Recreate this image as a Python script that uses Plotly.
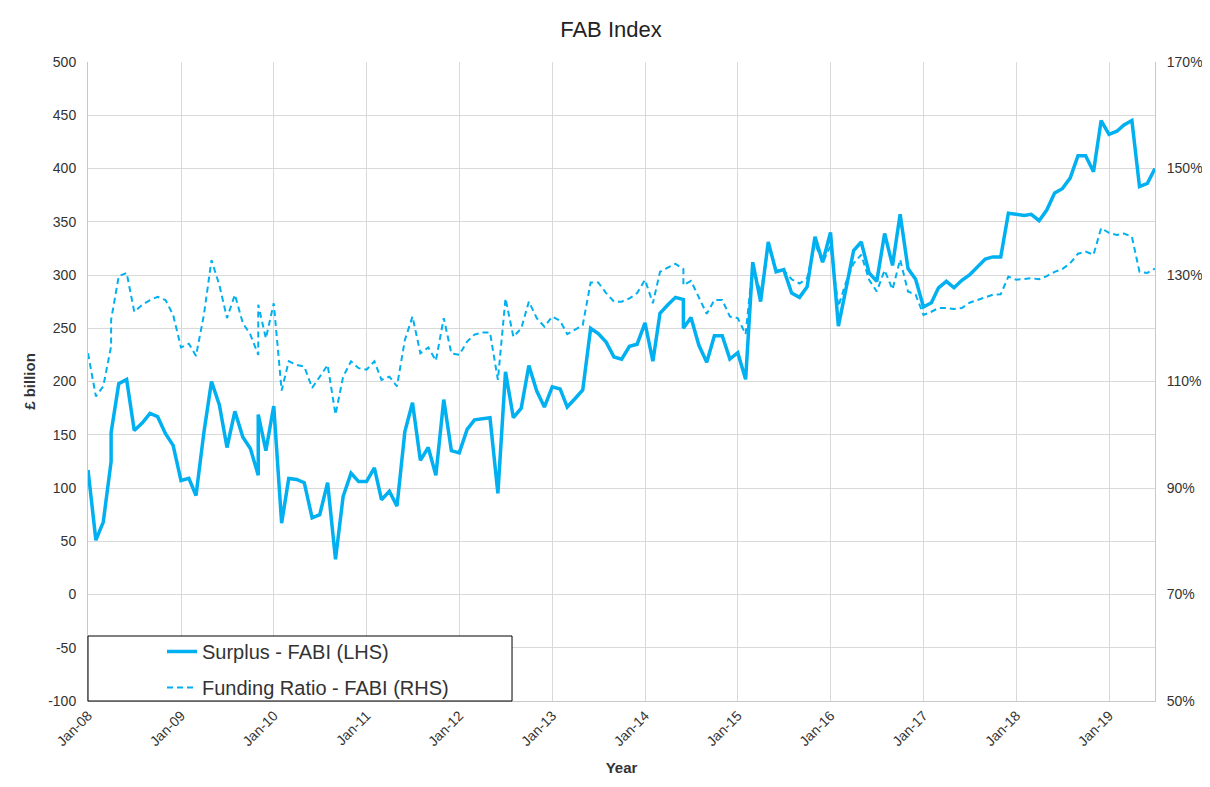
import pandas as pd
import plotly.graph_objects as go

# Months on which the series has two readings (drawn as a vertical step)
repeat_months = ["2008-04", "2009-11", "2014-06"]

surplus = [
    117, 51, 68, 125, 152, 198, 202, 154, 161, 170, 167, 151, 140,      # 2008
    107, 109, 93, 152, 200, 178, 138, 172, 148, 137, 112, 169, 135,     # 2009
    177, 67, 109, 108, 105, 72, 75, 105, 33, 92, 114, 106,              # 2010
    106, 119, 89, 97, 83, 153, 180, 126, 138, 112, 183, 135,            # 2011
    133, 155, 164, 165, 166, 95, 209, 166, 175, 215, 191, 176,          # 2012
    195, 193, 176, 184, 192, 250, 245, 237, 223, 221, 233, 235,         # 2013
    255, 219, 264, 272, 279, 277, 250, 260, 234, 218, 243, 243, 221,    # 2014
    227, 202, 312, 275, 331, 303, 305, 283, 279, 289, 336, 312,         # 2015
    340, 252, 286, 323, 331, 302, 294, 339, 309, 357, 306, 296,         # 2016
    270, 274, 288, 294, 288, 295, 300, 308, 315, 317, 317, 358,         # 2017
    357, 356, 357, 351, 361, 377, 381, 391, 412, 412, 397, 445,         # 2018
    432, 435, 441, 445, 383, 386, 400,                                  # 2019
]

funding_ratio = [
    115.3, 107.2, 109.1, 116.6, 121.6, 129.8, 130.4, 123.1, 124.4, 125.3, 125.9, 125.3, 122.5,
    116.4, 117.1, 114.8, 122.5, 132.8, 128.1, 121.9, 126.3, 121.0, 118.8, 115.0, 124.4, 118.1,
    124.7, 108.3, 113.8, 113.1, 112.8, 108.8, 110.9, 113.1, 103.8, 110.9, 113.8, 112.5,
    112.2, 113.8, 110.3, 110.9, 109.1, 117.8, 122.2, 115.3, 116.4, 113.9, 121.9, 115.3,
    115.0, 117.5, 118.8, 119.2, 119.2, 110.3, 125.6, 118.4, 120.0, 125.0, 121.9, 120.3,
    122.2, 121.4, 118.9, 119.7, 120.6, 128.6, 128.6, 126.6, 125.0, 125.0, 125.6, 126.6,
    129.1, 124.7, 130.6, 131.4, 132.1, 131.1, 128.1, 128.9, 125.9, 122.7, 125.3, 125.3, 122.2,
    121.9, 118.9, 131.9, 126.6, 135.6, 130.9, 130.9, 129.2, 128.4, 129.4, 135.9, 132.3,
    135.5, 124.1, 128.5, 132.2, 133.8, 129.1, 126.9, 130.9, 127.3, 132.9, 126.9, 126.3,
    122.5, 123.1, 123.8, 123.8, 123.6, 123.8, 124.8, 125.3, 125.8, 126.3, 126.4, 129.7,
    129.1, 129.2, 129.4, 129.2, 129.8, 130.6, 131.1, 132.2, 134.0, 134.4, 133.8, 138.8,
    137.9, 137.5, 137.8, 137.2, 130.6, 130.4, 131.2,
]

left_ticks = [-100, -50, 0, 50, 100, 150, 200, 250, 300, 350, 400, 450, 500]
left_labels = [str(v) for v in left_ticks]
right_ticks = [50, 70, 90, 110, 130, 150, 170]
right_labels = [f"{v}%" for v in right_ticks]
year_ticks = [f"{y}-01-01" for y in range(2008, 2020)]

dates = []
for d in pd.date_range("2008-01-01", "2019-07-01", freq="MS"):
    dates.append(d)
    if d.strftime("%Y-%m") in repeat_months:
        dates.append(d)

BLUE = "#00B0F0"
GRID = "#D9D9D9"
AXIS = "#C8C8C8"
FONT = "Liberation Sans, Arial, sans-serif"
TICK_FONT = dict(family=FONT, size=14, color="#333333")

fig = go.Figure()
fig.add_trace(go.Scatter(
    x=dates, y=surplus, mode="lines", name="Surplus - FABI (LHS)",
    legendgroup="a", line=dict(color=BLUE, width=3.5), yaxis="y"))
fig.add_trace(go.Scatter(
    x=dates, y=funding_ratio, mode="lines", name="Funding Ratio - FABI (RHS)",
    legendgroup="b", line=dict(color=BLUE, width=2, dash="6px,4px"), yaxis="y2"))

# legend frame (wide box as in the reference)
fig.add_shape(type="rect", xref="paper", yref="paper",
              x0=0, x1=0.3974, y0=0, y1=0.1017,
              line=dict(color="#000000", width=1), fillcolor="white", layer="above")

fig.update_layout(
    width=1194, height=771,
    margin=dict(l=80, r=47, t=54, b=78, autoexpand=False),
    paper_bgcolor="white", plot_bgcolor="white",
    font=dict(family=FONT, size=14, color="#333333"),
    title=dict(text="FAB Index", x=0.505, xanchor="center", xref="container",
               y=1 - 14 / 771, yanchor="top", yref="container",
               font=dict(family=FONT, size=22, color="#222222")),
    xaxis=dict(
        range=["2008-01-01", "2019-07-01"],
        tickvals=year_ticks, tickformat="%b-%y", tickangle=-45,
        showgrid=True, gridcolor=GRID, gridwidth=1,
        showline=True, linecolor=AXIS, linewidth=1,
        ticks="", tickfont=TICK_FONT, automargin=False,
        title=dict(text="<b>Year</b>", font=dict(family=FONT, size=15, color="#333333"), standoff=14),
        zeroline=False,
    ),
    yaxis=dict(
        range=[-100, 500], tickvals=left_ticks, ticktext=left_labels,
        showgrid=True, gridcolor=GRID, gridwidth=1,
        showline=True, linecolor=AXIS, linewidth=1,
        zeroline=False, ticks="", tickfont=TICK_FONT, automargin=False,
        ticklabelstandoff=8,
        title=dict(text="<b>£ billion</b>", font=dict(family=FONT, size=15, color="#333333"), standoff=8),
    ),
    yaxis2=dict(
        range=[50, 170], tickvals=right_ticks, ticktext=right_labels,
        overlaying="y", side="right", showgrid=False,
        showline=True, linecolor=AXIS, linewidth=1,
        zeroline=False, ticks="", tickfont=TICK_FONT, automargin=False,
        ticklabelstandoff=8,
    ),
    legend=dict(
        x=0, y=(701 - 632) / 639, xanchor="left", yanchor="top",
        bgcolor="rgba(0,0,0,0)", borderwidth=0,
        font=dict(family=FONT, size=20, color="#333333"),
        indentation=74, tracegroupgap=7, traceorder="grouped",
    ),
    showlegend=True,
)

fig.write_html("out.html")
